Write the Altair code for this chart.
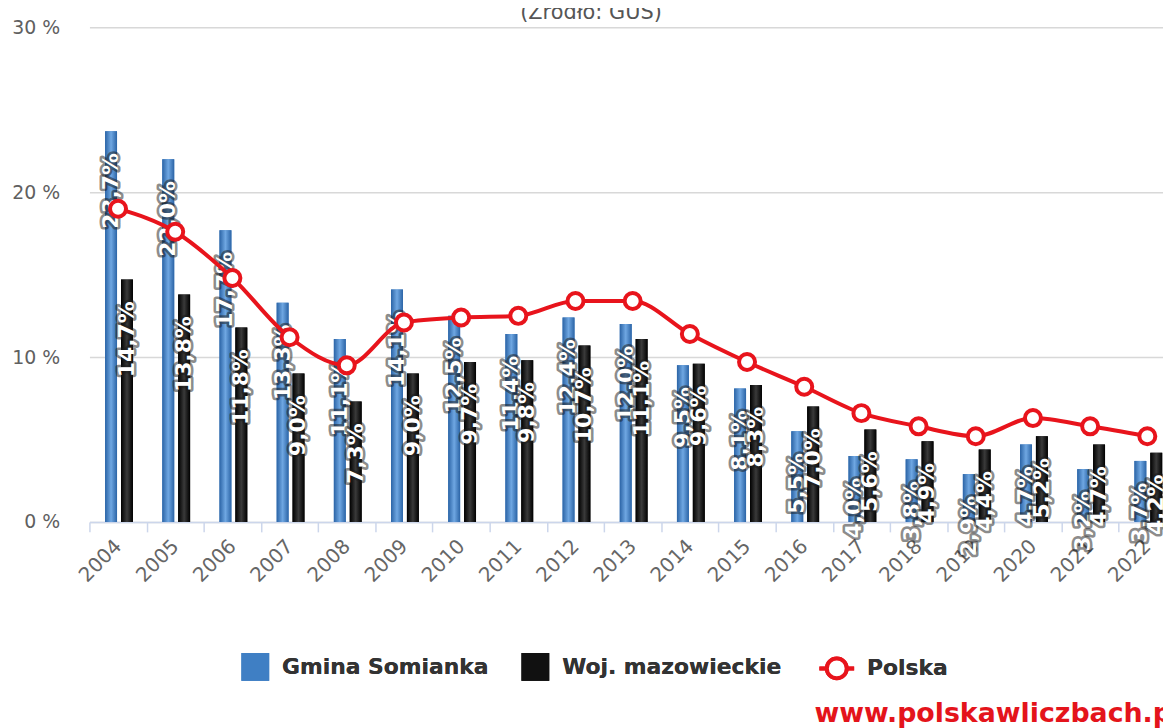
import altair as alt
import pandas as pd

years = ["2004", "2005", "2006", "2007", "2008", "2009", "2010", "2011", "2012", "2013",
         "2014", "2015", "2016", "2017", "2018", "2019", "2020", "2021", "2022"]
somianka = [23.7, 22.0, 17.7, 13.3, 11.1, 14.1, 12.5, 11.4, 12.4, 12.0,
            9.5, 8.1, 5.5, 4.0, 3.8, 2.9, 4.7, 3.2, 3.7]
mazowieckie = [14.7, 13.8, 11.8, 9.0, 7.3, 9.0, 9.7, 9.8, 10.7, 11.1,
               9.6, 8.3, 7.0, 5.6, 4.9, 4.4, 5.2, 4.7, 4.2]
polska = [19.0, 17.6, 14.8, 11.2, 9.5, 12.1, 12.4, 12.5, 13.4, 13.4,
          11.4, 9.7, 8.2, 6.6, 5.8, 5.2, 6.3, 5.8, 5.2]
series_names = ["Gmina Somianka", "Woj. mazowieckie", "Polska"]
y_ticks = [0, 10, 20, 30]
source_text = "(Źródło: GUS)"
watermark_text = "www.polskawliczbach.pl"


def pl(v):
    return f"{v:.1f}".replace(".", ",") + "%"


df_s = pd.DataFrame({"year": years, "value": somianka, "series": series_names[0]})
df_s["label"] = df_s["value"].map(pl)
df_m = pd.DataFrame({"year": years, "value": mazowieckie, "series": series_names[1]})
df_m["label"] = df_m["value"].map(pl)
df_p = pd.DataFrame({"year": years, "value": polska, "series": series_names[2]})

FONT = "DejaVu Sans"

x = alt.X(
    "year:N", sort=years,
    scale=alt.Scale(range=[0, 1094], paddingInner=0, paddingOuter=0),
    axis=alt.Axis(title=None, labelAngle=-45, labelAlign="right", labelBaseline="middle",
                  labelPadding=11, labelFontSize=20, labelColor="#666666", labelFont=FONT,
                  domainColor="#ccd6eb", domainWidth=1.5, tickColor="#ccd6eb", tickWidth=1.5,
                  tickSize=10, tickBand="extent", grid=False, labelOverlap=False),
)
y = alt.Y(
    "value:Q",
    scale=alt.Scale(domain=[0, 30], nice=False),
    axis=alt.Axis(title=None, values=y_ticks, labelExpr="datum.value + ' %'", grid=True,
                  gridColor="#d8d8d8", gridWidth=1.5, domain=False, ticks=False,
                  labelPadding=30, labelFontSize=19, labelColor="#606060", labelFont=FONT),
)

fill_enc = alt.Fill(
    "series:N",
    scale=alt.Scale(domain=series_names[:2], range=["#3f7fc4", "#111111"]),
    legend=alt.Legend(title=None, orient="none", legendX=153, legendY=630,
                      direction="horizontal", symbolType="square", symbolSize=784,
                      symbolStrokeWidth=0, symbolOpacity=1, labelFontSize=22, labelFont=FONT,
                      labelFontWeight="bold", labelColor="#333333", labelOffset=13,
                      columnPadding=32, padding=0, labelLimit=0),
)

circle_path = ("M-1,0H-0.57M0.57,0H1M-0.57,0A0.57,0.57,0,1,1,0.57,0"
               "A0.57,0.57,0,1,1,-0.57,0Z")
stroke_enc = alt.Stroke(
    "series:N",
    scale=alt.Scale(domain=[series_names[2]], range=["#e8141c"]),
    legend=alt.Legend(title=None, orient="none", legendX=733, legendY=626,
                      symbolType=circle_path, symbolSize=1225, symbolStrokeWidth=4,
                      symbolFillColor="white", symbolOpacity=1, labelFontSize=22,
                      labelFont=FONT, labelFontWeight="bold", labelColor="#333333",
                      labelOffset=11, padding=0, labelLimit=0),
)

blue_grad = alt.LinearGradient(
    gradient="linear", x1=0, x2=1, y1=0, y2=0,
    stops=[alt.GradientStop(offset=0, color="#2b64a6"),
           alt.GradientStop(offset=0.5, color="#6fa7e2"),
           alt.GradientStop(offset=1, color="#2b64a6")])
black_grad = alt.LinearGradient(
    gradient="linear", x1=0, x2=1, y1=0, y2=0,
    stops=[alt.GradientStop(offset=0, color="#000000"),
           alt.GradientStop(offset=0.5, color="#3a3a3a"),
           alt.GradientStop(offset=1, color="#000000")])

BW = 12
OFF_S = -7
OFF_M = 9

plain_s = alt.Chart(df_s).mark_bar(width=BW, xOffset=OFF_S).encode(x=x, y=y, fill=fill_enc)
plain_m = alt.Chart(df_m).mark_bar(width=BW, xOffset=OFF_M).encode(x=x, y=y, fill=fill_enc)
grad_s = alt.Chart(df_s).mark_bar(width=BW, xOffset=OFF_S, fill=blue_grad).encode(x=x, y=y)
grad_m = alt.Chart(df_m).mark_bar(width=BW, xOffset=OFF_M, fill=black_grad).encode(x=x, y=y)


def labels(df, off):
    common = dict(angle=270, align="right", baseline="middle", fontSize=22,
                  fontWeight="bold", font=FONT, xOffset=off, yOffset=22)
    halo = alt.Chart(df).mark_text(stroke="#1a1a1a", strokeWidth=5, strokeOpacity=0.5,
                                   strokeJoin="round", fill="#1a1a1a", **common).encode(
        x=x, y=y, text="label:N")
    txt = alt.Chart(df).mark_text(fill="white", **common).encode(x=x, y=y, text="label:N")
    return [halo, txt]


line = alt.Chart(df_p).mark_line(strokeWidth=4, interpolate="monotone").encode(
    x=x, y=y, stroke=stroke_enc)
points = alt.Chart(df_p).mark_point(filled=True, fill="white", size=260, strokeWidth=4,
                                    opacity=1).encode(x=x, y=y, stroke=stroke_enc)

source = alt.Chart(alt.Data(values=[{"t": source_text}])).mark_text(
    align="center", baseline="alphabetic", fontSize=21, font=FONT,
    color="#555555").encode(x=alt.value(505), y=alt.value(-8), text="t:N")

watermark = alt.Chart(alt.Data(values=[{"t": watermark_text}])).mark_text(
    align="left", baseline="alphabetic", fontSize=27, fontWeight="bold", font=FONT,
    color="#e4141b").encode(x=alt.value(730), y=alt.value(699), text="t:N")

chart = alt.layer(
    plain_s, plain_m, grad_s, grad_m,
    *labels(df_s, OFF_S), *labels(df_m, OFF_M),
    line, points, source, watermark,
).properties(
    width=1081, height=498,
    padding={"left": 82, "top": 17, "right": 0, "bottom": 205},
    autosize=alt.AutoSizeParams(type="none"),
    background="white",
).resolve_scale(fill="independent", stroke="independent").configure_view(stroke=None)

chart.save("out.html", embed_options={"renderer": "svg", "actions": False})
